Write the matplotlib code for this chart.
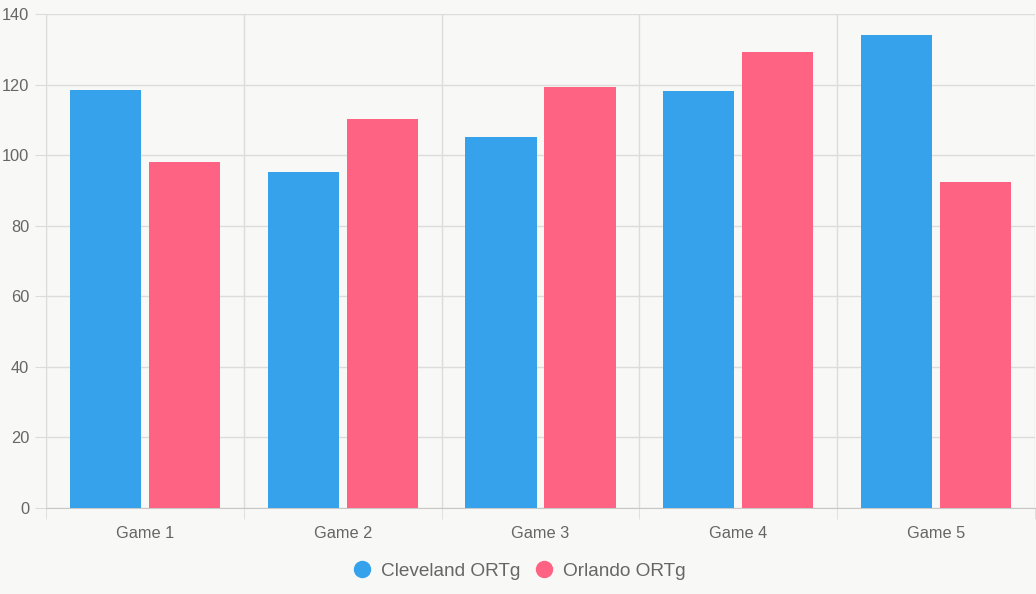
import matplotlib
matplotlib.use("Agg")
import matplotlib.pyplot as plt
from matplotlib.lines import Line2D
import numpy as np

plt.rcParams.update({
    "font.family": ["Liberation Sans", "DejaVu Sans"],
})

games = ["Game 1", "Game 2", "Game 3", "Game 4", "Game 5"]
cleveland = [118.4, 95.2, 105.1, 118.2, 134.0]
orlando = [98.0, 110.2, 119.3, 129.2, 92.4]
y_ticks = [0, 20, 40, 60, 80, 100, 120, 140]

BG = "#f8f8f6"
GRID = "#dcdcda"
TXT = "#666666"
BLUE = "#36a2eb"
PINK = "#ff6384"

fig = plt.figure(figsize=(10.36, 5.94), dpi=100, facecolor=BG)
ax = fig.add_axes([46 / 1036, 86 / 594, 989 / 1036, 494 / 594], facecolor=BG)

x = np.arange(len(games))
w = 0.36
ax.bar(x - 0.2, cleveland, width=w, color=BLUE, zorder=3)
ax.bar(x + 0.2, orlando, width=w, color=PINK, zorder=3)

ax.set_xlim(-0.5, len(games) - 0.5)
ax.set_ylim(0, 140)
ax.set_yticks(y_ticks)
ax.set_xticks(x)
ax.set_xticklabels(games)
ax.set_xticks(np.arange(len(games) + 1) - 0.5, minor=True)

ax.grid(axis="y", which="major", color=GRID, linewidth=1, zorder=0)
ax.grid(axis="x", which="minor", color=GRID, linewidth=1, zorder=0)
ax.tick_params(axis="y", length=8, color=GRID, labelcolor=TXT, labelsize=11.8, pad=4)
ax.tick_params(axis="x", which="major", length=0, labelcolor=TXT, labelsize=11.8, pad=13)
ax.tick_params(axis="x", which="minor", length=8, color=GRID)

for side in ["top", "right"]:
    ax.spines[side].set_visible(False)
ax.spines["left"].set_color(GRID)
ax.spines["bottom"].set_color("#c8c8c6")

handles = [
    Line2D([], [], marker="o", linestyle="", markersize=11.5, color=BLUE),
    Line2D([], [], marker="o", linestyle="", markersize=11.5, color=PINK),
]
fig.legend(handles, ["Cleveland ORTg", "Orlando ORTg"], loc="center",
           bbox_to_anchor=(519 / 1036, 1 - 571 / 594), ncol=2, frameon=False,
           fontsize=13.7, labelcolor=TXT, handletextpad=0.5, columnspacing=0.7,
           handlelength=1.0)

fig.savefig("out.png", facecolor=BG)
